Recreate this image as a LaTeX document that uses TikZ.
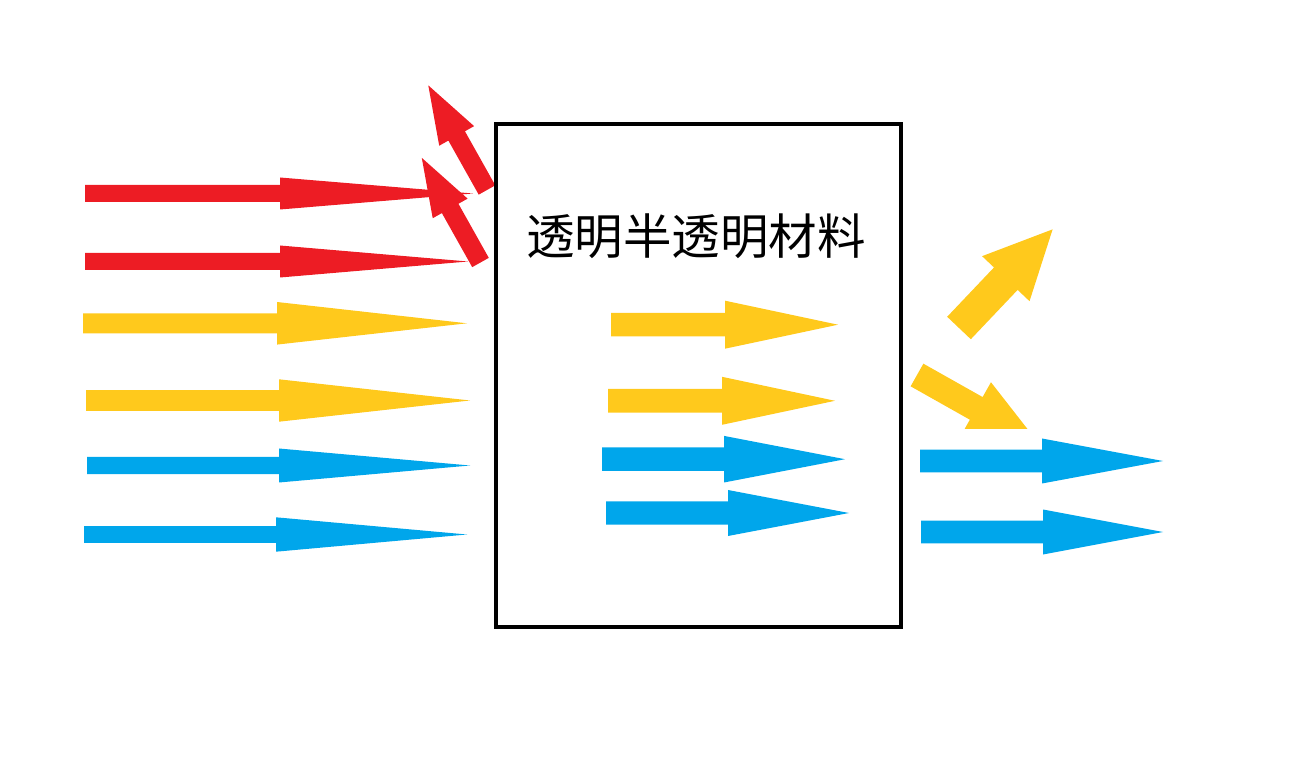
\documentclass[tikz,border=0pt]{standalone}
\usepackage{fontspec}
\newfontfamily\cjk{Noto Sans CJK SC}
\definecolor{lred}{RGB}{237,28,36}
\definecolor{lgold}{RGB}{255,201,28}
\definecolor{lblue}{RGB}{0,166,235}
\begin{document}
\begin{tikzpicture}[x=0.02cm,y=-0.02cm]
    \useasboundingbox (0,0) rectangle (1302,780);
    \foreach \c/\xa/\xb/\xt/\y/\w/\h in {lred/85/280/473/193.5/8.5/16, lred/85/280/468/261.5/8.5/16,
        lgold/83/277/467/323.3/10/21.3, lgold/86/279/470/400.5/10.3/21.2,
        lblue/87/279/470/465.5/8.7/17, lblue/84/276/467/534.5/8.3/17.2,
        lgold/611/725/838/324.7/11.7/24, lgold/608/722/835/400.8/11.8/24,
        lblue/602/724/845/459.2/11.7/23.3, lblue/606/728/849/513/11.7/23,
        lblue/920/1042/1163/461/11.3/22.5, lblue/921/1043/1163/532/11.3/22.5}
        \fill[\c] (\xa,\y-\w) -- (\xb,\y-\w) -- (\xb,\y-\h) -- (\xt,\y) -- (\xb,\y+\h) -- (\xb,\y+\w) -- (\xa,\y+\w) -- cycle;
    \foreach \c/\xo/\yo/\a/\L/\h/\s/\H in {lred/487/190/119.3/120/58/9.5/20, lred/480.5/262.5/119.3/120/58/9.5/20,
        lgold/959/328/46.5/136/68/16.3/32.7}
        \fill[\c,shift={(\xo,\yo)},rotate=\a] (0,-\s) -- (\L-\h,-\s) -- (\L-\h,-\H) -- (\L,0) -- (\L-\h,\H) -- (\L-\h,\s) -- (0,\s) -- cycle;
    \begin{scope}
        \clip (900,300) rectangle (1100,428.3);
        \fill[lgold,shift={(917,375)},rotate=-29.4] (0,-13) -- (68,-13) -- (68,-30) -- (140,0) -- (68,30) -- (68,13) -- (0,13) -- cycle;
    \end{scope}
    \node[draw,line width=2.6pt,minimum width=8.1cm,minimum height=10.06cm] (box) at (698.5,375.5) {};
    \node (label) at (696,236) {\cjk\fontsize{27.6pt}{27.6pt}\selectfont 透明半透明材料};
\end{tikzpicture}
\end{document}
